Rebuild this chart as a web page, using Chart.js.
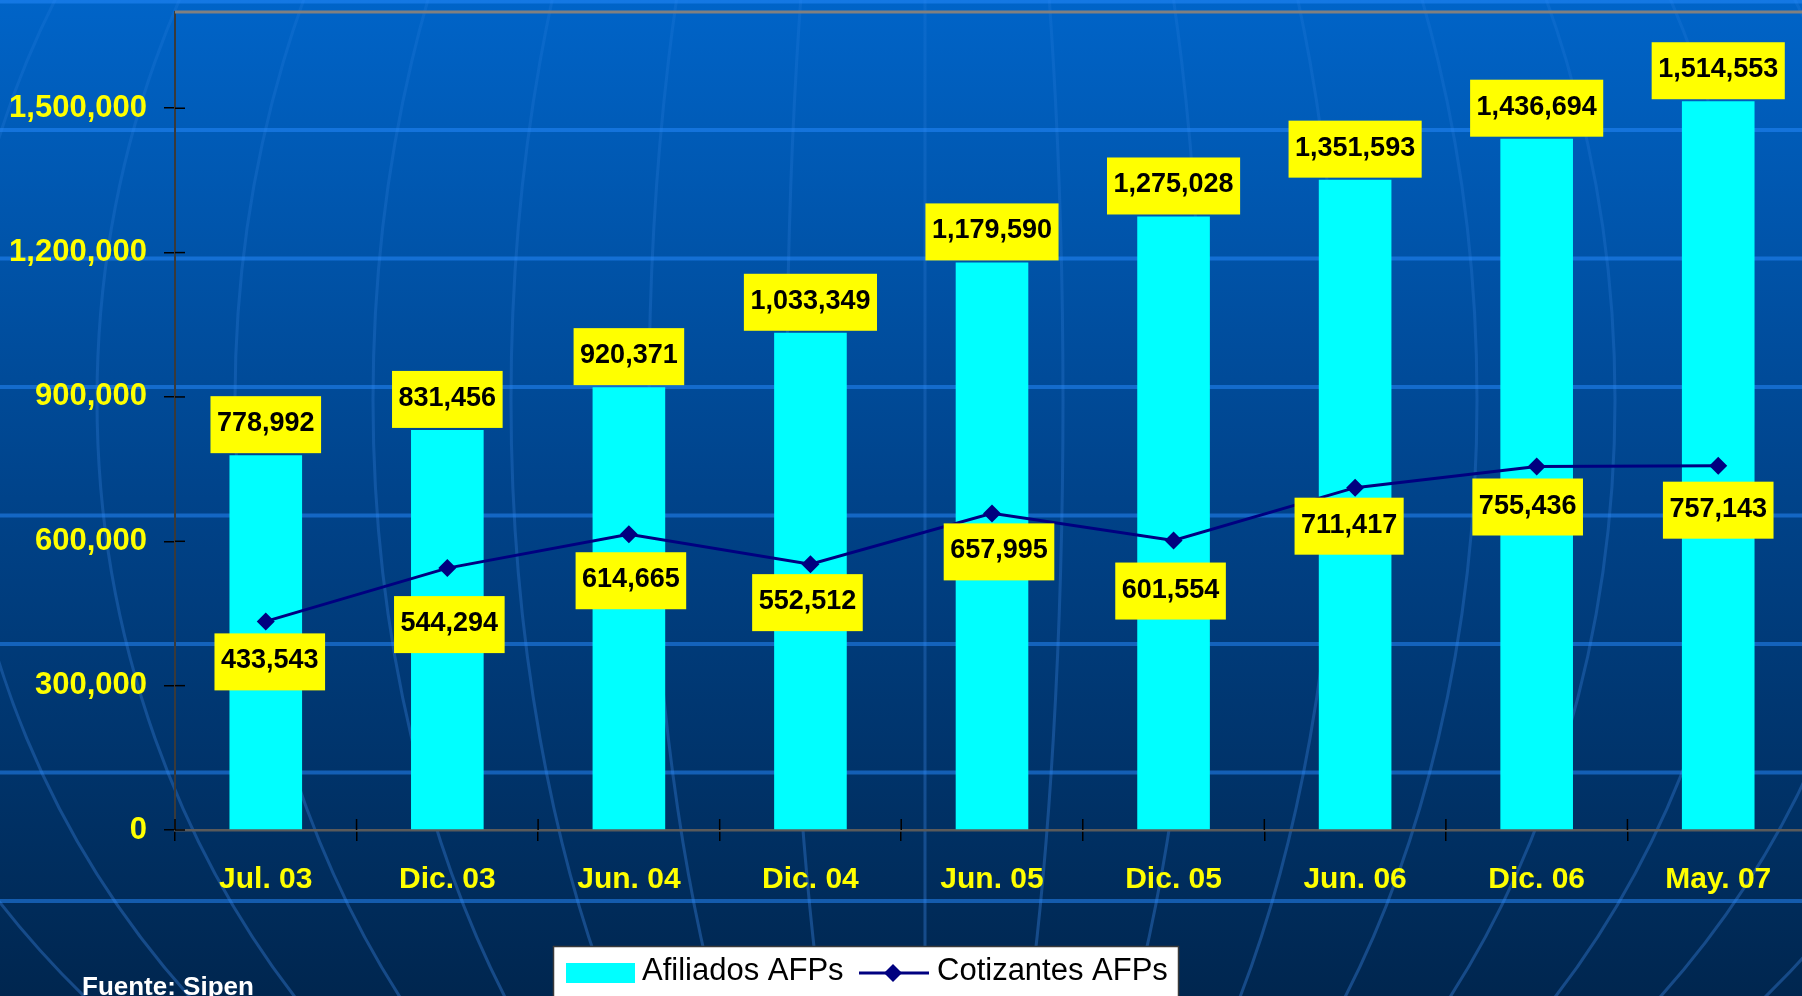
<!DOCTYPE html>
<html>
<head>
<meta charset="utf-8">
<script src="https://cdn.jsdelivr.net/npm/chart.js@4.4.0/dist/chart.umd.min.js"></script>
<style>
    html, body { margin: 0; padding: 0; overflow: hidden; background: #002a58; }
    #wrap { position: relative; width: 1802px; height: 996px; overflow: hidden; }
    canvas { display: block; }
</style>
</head>
<body>
<div id="wrap"><canvas id="chart" width="1812" height="996"></canvas></div>
<script>
const periods = ['Jul. 03', 'Dic. 03', 'Jun. 04', 'Dic. 04', 'Jun. 05', 'Dic. 05', 'Jun. 06', 'Dic. 06', 'May. 07'];
const afiliados = [778992, 831456, 920371, 1033349, 1179590, 1275028, 1351593, 1436694, 1514553];
const cotizantes = [433543, 544294, 614665, 552512, 657995, 601554, 711417, 755436, 757143];
const yTicks = [0, 300000, 600000, 900000, 1200000, 1500000];
const sourceNote = 'Fuente: Sipen';

const FONT = "'Liberation Sans', Arial, sans-serif";
const fmt = v => v.toLocaleString('en-US');

// fondo de la diapositiva: degradado, meridianos y lineas horizontales
const slideBackground = {
    id: 'slideBackground',
    beforeDraw(chart) {
        const { ctx, width, height } = chart;
        ctx.save();
        const g = ctx.createLinearGradient(0, 0, 0, height);
        g.addColorStop(0, '#0064c8');
        g.addColorStop(0.5, '#00438a');
        g.addColorStop(1, '#00264f');
        ctx.fillStyle = g;
        ctx.fillRect(0, 0, width, height);

        const mg = ctx.createLinearGradient(0, 0, 0, height);
        mg.addColorStop(0, 'rgba(90, 160, 255, 0.10)');
        mg.addColorStop(1, 'rgba(70, 150, 255, 0.32)');
        ctx.strokeStyle = mg;
        ctx.lineWidth = 3;
        for (let k = 1; k <= 8; k++) {
            ctx.beginPath();
            ctx.ellipse(925, 400, 138 * k, 920, 0, 0, Math.PI * 2);
            ctx.stroke();
        }
        ctx.beginPath();
        ctx.moveTo(925, 0);
        ctx.lineTo(925, height);
        ctx.stroke();

        ctx.strokeStyle = 'rgba(40, 140, 255, 0.5)';
        ctx.lineWidth = 4;
        for (let y = 1.5; y < height; y += 128.5) {
            ctx.beginPath();
            ctx.moveTo(0, y);
            ctx.lineTo(width, y);
            ctx.stroke();
        }
        ctx.restore();
    }
};

// borde superior y marcas que cruzan los ejes
const axisFrame = {
    id: 'axisFrame',
    beforeDatasetsDraw(chart) {
        const { ctx, chartArea: a, scales: { x, y } } = chart;
        ctx.save();
        ctx.strokeStyle = '#808080';
        ctx.lineWidth = 3;
        ctx.beginPath();
        ctx.moveTo(a.left, a.top);
        ctx.lineTo(a.right, a.top);
        ctx.stroke();

        ctx.strokeStyle = '#000';
        ctx.lineWidth = 1.5;
        y.ticks.forEach(t => {
            const py = y.getPixelForValue(t.value);
            ctx.beginPath();
            ctx.moveTo(a.left, py);
            ctx.lineTo(a.left + 10, py);
            ctx.stroke();
        });
        const step = (x.right - x.left) / periods.length;
        for (let i = 0; i <= periods.length; i++) {
            const px = x.left + i * step;
            ctx.beginPath();
            ctx.moveTo(px, a.bottom - 11);
            ctx.lineTo(px, a.bottom);
            ctx.stroke();
        }
        ctx.restore();
    }
};

// etiquetas amarillas de los valores
const valueBoxes = {
    id: 'valueBoxes',
    afterDatasetsDraw(chart, args, opts) {
        const { ctx } = chart;
        ctx.save();
        ctx.font = 'bold 27px ' + FONT;
        ctx.textAlign = 'center';
        ctx.textBaseline = 'alphabetic';
        const box = (text, cx, top) => {
            const w = ctx.measureText(text).width + 13;
            ctx.fillStyle = '#ffff00';
            ctx.fillRect(cx - w / 2, top, w, 57);
            ctx.fillStyle = '#000';
            ctx.fillText(text, cx, top + 35);
        };
        chart.getDatasetMeta(0).data.forEach((el, i) => {
            box(fmt(afiliados[i]), el.x, el.y - 59);
        });
        chart.getDatasetMeta(1).data.forEach((el, i) => {
            box(fmt(cotizantes[i]), el.x + opts.shift[i], el.y + opts.gap[i]);
        });
        ctx.restore();
    }
};

// leyenda y fuente
const slideLegend = {
    id: 'slideLegend',
    afterDraw(chart) {
        const { ctx } = chart;
        const ds = chart.data.datasets;
        ctx.save();
        ctx.fillStyle = '#fff';
        ctx.fillRect(553, 946, 626, 60);
        ctx.strokeStyle = '#3a3a3a';
        ctx.lineWidth = 1.5;
        ctx.strokeRect(553.5, 946.5, 625, 60);

        ctx.fillStyle = ds[0].backgroundColor;
        ctx.fillRect(566, 963, 69, 20);
        ctx.font = '31px ' + FONT;
        ctx.fillStyle = '#000';
        ctx.textBaseline = 'alphabetic';
        ctx.fillText(ds[0].label, 642, 980);

        ctx.strokeStyle = ds[1].borderColor;
        ctx.lineWidth = 3;
        ctx.beginPath();
        ctx.moveTo(859, 973);
        ctx.lineTo(929, 973);
        ctx.stroke();
        ctx.fillStyle = ds[1].borderColor;
        ctx.beginPath();
        ctx.moveTo(893, 964);
        ctx.lineTo(902, 973);
        ctx.lineTo(893, 982);
        ctx.lineTo(884, 973);
        ctx.closePath();
        ctx.fill();
        ctx.fillStyle = '#000';
        ctx.fillText(ds[1].label, 937, 980);

        ctx.font = 'bold 26px ' + FONT;
        ctx.fillStyle = '#ffffff';
        ctx.fillText(sourceNote, 82, 995);
        ctx.restore();
    }
};

const noScalePadding = s => {
    s.paddingTop = 0; s.paddingBottom = 0; s.paddingLeft = 0; s.paddingRight = 0;
};

new Chart(document.getElementById('chart'), {
    type: 'bar',
    data: {
        labels: periods,
        datasets: [{
            label: 'Afiliados AFPs',
            data: afiliados,
            backgroundColor: '#00ffff',
            borderWidth: 0,
            barPercentage: 0.4,
            categoryPercentage: 1,
            order: 1
        }, {
            type: 'line',
            label: 'Cotizantes AFPs',
            data: cotizantes,
            borderColor: '#000080',
            backgroundColor: '#000080',
            borderWidth: 3,
            tension: 0,
            pointStyle: 'rectRot',
            pointRadius: 9,
            pointBackgroundColor: '#000080',
            pointBorderWidth: 0,
            order: 0
        }]
    },
    options: {
        responsive: false,
        devicePixelRatio: 1,
        animation: false,
        layout: { autoPadding: false, padding: { left: 0, top: 12, right: 3, bottom: 96 } },
        plugins: {
            legend: { display: false },
            tooltip: { enabled: false },
            valueBoxes: {
                gap: [12, 28, 18, 10, 10, 22, 10, 12, 16],
                shift: [4, 2, 2, -3, 7, -3, -6, -9, 0]
            }
        },
        scales: {
            x: {
                afterFit: s => { s.height = 70; noScalePadding(s); },
                grid: { drawOnChartArea: false, tickLength: 11, color: '#000', lineWidth: 1.5 },
                border: { color: '#5a5a5a', width: 2.5 },
                ticks: { color: '#ffff00', font: { family: FONT, size: 30, weight: 'bold' }, padding: 21, maxRotation: 0 }
            },
            y: {
                min: 0,
                max: 1700000,
                afterFit: s => { s.width = 175; noScalePadding(s); },
                afterBuildTicks: s => { s.ticks = yTicks.map(v => ({ value: v })); },
                grid: { drawOnChartArea: false, tickLength: 11, color: '#000', lineWidth: 1.5 },
                border: { color: '#3a3a3a', width: 2 },
                ticks: { color: '#ffff00', font: { family: FONT, size: 31, weight: 'bold' }, padding: 17, callback: v => fmt(v) }
            }
        }
    },
    plugins: [slideBackground, axisFrame, valueBoxes, slideLegend]
});
</script>
</body>
</html>
